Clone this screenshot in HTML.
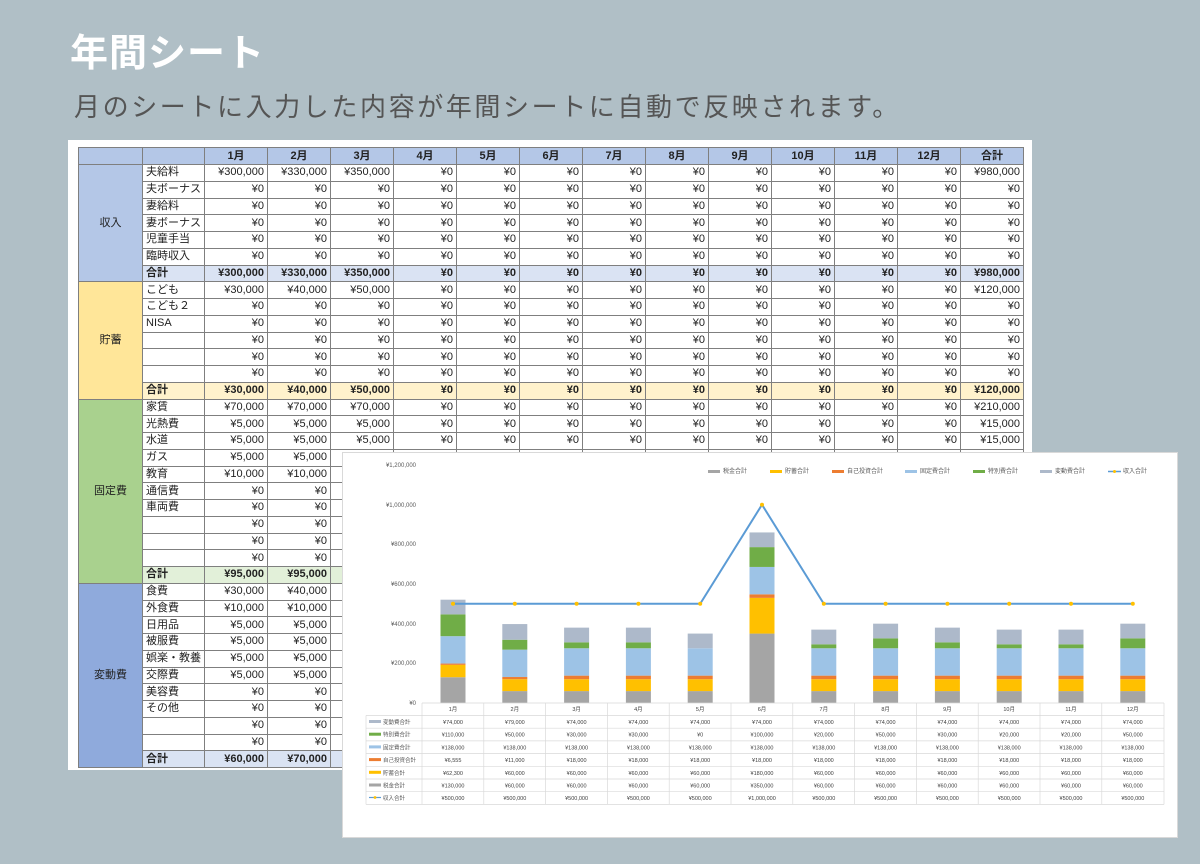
<!DOCTYPE html>
<html><head><meta charset="utf-8">
<style>
body{margin:0;width:1200px;height:864px;background:#b0bfc6;position:relative;overflow:hidden;font-family:"Liberation Sans","Noto Sans CJK JP",sans-serif;}
.title{position:absolute;left:70px;top:22px;font-size:38px;font-weight:bold;color:#fff;letter-spacing:1px}
.sub{position:absolute;left:74px;top:87px;font-size:26px;color:#555;letter-spacing:2.6px}
.sheet{position:absolute;left:68px;top:140px;width:964px;height:630px;background:#fff}
table{position:absolute;left:78px;top:147px;border-collapse:collapse;table-layout:fixed;font-size:11px;color:#222}
td{border:1px solid #7f7f7f;height:15.75px;padding:0 3px;text-align:right;white-space:nowrap;overflow:hidden;line-height:1}
td.l{text-align:left}
td.c{text-align:center}
tr.h td{background:#b4c7e7;font-weight:bold;text-align:center;height:16px}
tr.s1 td{background:#dae3f3;font-weight:bold}
tr.s2 td{background:#fff2cc;font-weight:bold}
tr.s3 td{background:#e2f0d9;font-weight:bold}
tr.s4 td{background:#dae3f3;font-weight:bold}
svg{position:absolute;left:0;top:0}
</style></head><body>
<div class="title">年間シート</div>
<div class="sub">月のシートに入力した内容が年間シートに自動で反映されます。</div>
<div class="sheet"></div>
<table>
<colgroup><col style="width:64px"><col style="width:62px"><col span="13" style="width:63px"></colgroup>
<tr class="h"><td></td><td></td><td>1月</td><td>2月</td><td>3月</td><td>4月</td><td>5月</td><td>6月</td><td>7月</td><td>8月</td><td>9月</td><td>10月</td><td>11月</td><td>12月</td><td>合計</td></tr>
<tr><td rowspan="7" class="c" style="background:#b4c7e7">収入</td><td class="l">夫給料</td><td>¥300,000</td><td>¥330,000</td><td>¥350,000</td><td>¥0</td><td>¥0</td><td>¥0</td><td>¥0</td><td>¥0</td><td>¥0</td><td>¥0</td><td>¥0</td><td>¥0</td><td>¥980,000</td></tr>
<tr><td class="l">夫ボーナス</td><td>¥0</td><td>¥0</td><td>¥0</td><td>¥0</td><td>¥0</td><td>¥0</td><td>¥0</td><td>¥0</td><td>¥0</td><td>¥0</td><td>¥0</td><td>¥0</td><td>¥0</td></tr>
<tr><td class="l">妻給料</td><td>¥0</td><td>¥0</td><td>¥0</td><td>¥0</td><td>¥0</td><td>¥0</td><td>¥0</td><td>¥0</td><td>¥0</td><td>¥0</td><td>¥0</td><td>¥0</td><td>¥0</td></tr>
<tr><td class="l">妻ボーナス</td><td>¥0</td><td>¥0</td><td>¥0</td><td>¥0</td><td>¥0</td><td>¥0</td><td>¥0</td><td>¥0</td><td>¥0</td><td>¥0</td><td>¥0</td><td>¥0</td><td>¥0</td></tr>
<tr><td class="l">児童手当</td><td>¥0</td><td>¥0</td><td>¥0</td><td>¥0</td><td>¥0</td><td>¥0</td><td>¥0</td><td>¥0</td><td>¥0</td><td>¥0</td><td>¥0</td><td>¥0</td><td>¥0</td></tr>
<tr><td class="l">臨時収入</td><td>¥0</td><td>¥0</td><td>¥0</td><td>¥0</td><td>¥0</td><td>¥0</td><td>¥0</td><td>¥0</td><td>¥0</td><td>¥0</td><td>¥0</td><td>¥0</td><td>¥0</td></tr>
<tr class="s1"><td class="l">合計</td><td>¥300,000</td><td>¥330,000</td><td>¥350,000</td><td>¥0</td><td>¥0</td><td>¥0</td><td>¥0</td><td>¥0</td><td>¥0</td><td>¥0</td><td>¥0</td><td>¥0</td><td>¥980,000</td></tr>
<tr><td rowspan="7" class="c" style="background:#ffe699">貯蓄</td><td class="l">こども</td><td>¥30,000</td><td>¥40,000</td><td>¥50,000</td><td>¥0</td><td>¥0</td><td>¥0</td><td>¥0</td><td>¥0</td><td>¥0</td><td>¥0</td><td>¥0</td><td>¥0</td><td>¥120,000</td></tr>
<tr><td class="l">こども２</td><td>¥0</td><td>¥0</td><td>¥0</td><td>¥0</td><td>¥0</td><td>¥0</td><td>¥0</td><td>¥0</td><td>¥0</td><td>¥0</td><td>¥0</td><td>¥0</td><td>¥0</td></tr>
<tr><td class="l">NISA</td><td>¥0</td><td>¥0</td><td>¥0</td><td>¥0</td><td>¥0</td><td>¥0</td><td>¥0</td><td>¥0</td><td>¥0</td><td>¥0</td><td>¥0</td><td>¥0</td><td>¥0</td></tr>
<tr><td class="l"></td><td>¥0</td><td>¥0</td><td>¥0</td><td>¥0</td><td>¥0</td><td>¥0</td><td>¥0</td><td>¥0</td><td>¥0</td><td>¥0</td><td>¥0</td><td>¥0</td><td>¥0</td></tr>
<tr><td class="l"></td><td>¥0</td><td>¥0</td><td>¥0</td><td>¥0</td><td>¥0</td><td>¥0</td><td>¥0</td><td>¥0</td><td>¥0</td><td>¥0</td><td>¥0</td><td>¥0</td><td>¥0</td></tr>
<tr><td class="l"></td><td>¥0</td><td>¥0</td><td>¥0</td><td>¥0</td><td>¥0</td><td>¥0</td><td>¥0</td><td>¥0</td><td>¥0</td><td>¥0</td><td>¥0</td><td>¥0</td><td>¥0</td></tr>
<tr class="s2"><td class="l">合計</td><td>¥30,000</td><td>¥40,000</td><td>¥50,000</td><td>¥0</td><td>¥0</td><td>¥0</td><td>¥0</td><td>¥0</td><td>¥0</td><td>¥0</td><td>¥0</td><td>¥0</td><td>¥120,000</td></tr>
<tr><td rowspan="11" class="c" style="background:#a9d18e">固定費</td><td class="l">家賃</td><td>¥70,000</td><td>¥70,000</td><td>¥70,000</td><td>¥0</td><td>¥0</td><td>¥0</td><td>¥0</td><td>¥0</td><td>¥0</td><td>¥0</td><td>¥0</td><td>¥0</td><td>¥210,000</td></tr>
<tr><td class="l">光熱費</td><td>¥5,000</td><td>¥5,000</td><td>¥5,000</td><td>¥0</td><td>¥0</td><td>¥0</td><td>¥0</td><td>¥0</td><td>¥0</td><td>¥0</td><td>¥0</td><td>¥0</td><td>¥15,000</td></tr>
<tr><td class="l">水道</td><td>¥5,000</td><td>¥5,000</td><td>¥5,000</td><td>¥0</td><td>¥0</td><td>¥0</td><td>¥0</td><td>¥0</td><td>¥0</td><td>¥0</td><td>¥0</td><td>¥0</td><td>¥15,000</td></tr>
<tr><td class="l">ガス</td><td>¥5,000</td><td>¥5,000</td><td>¥5,000</td><td>¥0</td><td>¥0</td><td>¥0</td><td>¥0</td><td>¥0</td><td>¥0</td><td>¥0</td><td>¥0</td><td>¥0</td><td>¥15,000</td></tr>
<tr><td class="l">教育</td><td>¥10,000</td><td>¥10,000</td><td>¥10,000</td><td>¥0</td><td>¥0</td><td>¥0</td><td>¥0</td><td>¥0</td><td>¥0</td><td>¥0</td><td>¥0</td><td>¥0</td><td>¥30,000</td></tr>
<tr><td class="l">通信費</td><td>¥0</td><td>¥0</td><td>¥0</td><td>¥0</td><td>¥0</td><td>¥0</td><td>¥0</td><td>¥0</td><td>¥0</td><td>¥0</td><td>¥0</td><td>¥0</td><td>¥0</td></tr>
<tr><td class="l">車両費</td><td>¥0</td><td>¥0</td><td>¥0</td><td>¥0</td><td>¥0</td><td>¥0</td><td>¥0</td><td>¥0</td><td>¥0</td><td>¥0</td><td>¥0</td><td>¥0</td><td>¥0</td></tr>
<tr><td class="l"></td><td>¥0</td><td>¥0</td><td>¥0</td><td>¥0</td><td>¥0</td><td>¥0</td><td>¥0</td><td>¥0</td><td>¥0</td><td>¥0</td><td>¥0</td><td>¥0</td><td>¥0</td></tr>
<tr><td class="l"></td><td>¥0</td><td>¥0</td><td>¥0</td><td>¥0</td><td>¥0</td><td>¥0</td><td>¥0</td><td>¥0</td><td>¥0</td><td>¥0</td><td>¥0</td><td>¥0</td><td>¥0</td></tr>
<tr><td class="l"></td><td>¥0</td><td>¥0</td><td>¥0</td><td>¥0</td><td>¥0</td><td>¥0</td><td>¥0</td><td>¥0</td><td>¥0</td><td>¥0</td><td>¥0</td><td>¥0</td><td>¥0</td></tr>
<tr class="s3"><td class="l">合計</td><td>¥95,000</td><td>¥95,000</td><td>¥95,000</td><td>¥0</td><td>¥0</td><td>¥0</td><td>¥0</td><td>¥0</td><td>¥0</td><td>¥0</td><td>¥0</td><td>¥0</td><td>¥285,000</td></tr>
<tr><td rowspan="11" class="c" style="background:#8faadc">変動費</td><td class="l">食費</td><td>¥30,000</td><td>¥40,000</td><td>¥40,000</td><td>¥0</td><td>¥0</td><td>¥0</td><td>¥0</td><td>¥0</td><td>¥0</td><td>¥0</td><td>¥0</td><td>¥0</td><td>¥110,000</td></tr>
<tr><td class="l">外食費</td><td>¥10,000</td><td>¥10,000</td><td>¥10,000</td><td>¥0</td><td>¥0</td><td>¥0</td><td>¥0</td><td>¥0</td><td>¥0</td><td>¥0</td><td>¥0</td><td>¥0</td><td>¥30,000</td></tr>
<tr><td class="l">日用品</td><td>¥5,000</td><td>¥5,000</td><td>¥5,000</td><td>¥0</td><td>¥0</td><td>¥0</td><td>¥0</td><td>¥0</td><td>¥0</td><td>¥0</td><td>¥0</td><td>¥0</td><td>¥15,000</td></tr>
<tr><td class="l">被服費</td><td>¥5,000</td><td>¥5,000</td><td>¥5,000</td><td>¥0</td><td>¥0</td><td>¥0</td><td>¥0</td><td>¥0</td><td>¥0</td><td>¥0</td><td>¥0</td><td>¥0</td><td>¥15,000</td></tr>
<tr><td class="l">娯楽・教養</td><td>¥5,000</td><td>¥5,000</td><td>¥5,000</td><td>¥0</td><td>¥0</td><td>¥0</td><td>¥0</td><td>¥0</td><td>¥0</td><td>¥0</td><td>¥0</td><td>¥0</td><td>¥15,000</td></tr>
<tr><td class="l">交際費</td><td>¥5,000</td><td>¥5,000</td><td>¥5,000</td><td>¥0</td><td>¥0</td><td>¥0</td><td>¥0</td><td>¥0</td><td>¥0</td><td>¥0</td><td>¥0</td><td>¥0</td><td>¥15,000</td></tr>
<tr><td class="l">美容費</td><td>¥0</td><td>¥0</td><td>¥0</td><td>¥0</td><td>¥0</td><td>¥0</td><td>¥0</td><td>¥0</td><td>¥0</td><td>¥0</td><td>¥0</td><td>¥0</td><td>¥0</td></tr>
<tr><td class="l">その他</td><td>¥0</td><td>¥0</td><td>¥0</td><td>¥0</td><td>¥0</td><td>¥0</td><td>¥0</td><td>¥0</td><td>¥0</td><td>¥0</td><td>¥0</td><td>¥0</td><td>¥0</td></tr>
<tr><td class="l"></td><td>¥0</td><td>¥0</td><td>¥0</td><td>¥0</td><td>¥0</td><td>¥0</td><td>¥0</td><td>¥0</td><td>¥0</td><td>¥0</td><td>¥0</td><td>¥0</td><td>¥0</td></tr>
<tr><td class="l"></td><td>¥0</td><td>¥0</td><td>¥0</td><td>¥0</td><td>¥0</td><td>¥0</td><td>¥0</td><td>¥0</td><td>¥0</td><td>¥0</td><td>¥0</td><td>¥0</td><td>¥0</td></tr>
<tr class="s4"><td class="l">合計</td><td>¥60,000</td><td>¥70,000</td><td>¥70,000</td><td>¥0</td><td>¥0</td><td>¥0</td><td>¥0</td><td>¥0</td><td>¥0</td><td>¥0</td><td>¥0</td><td>¥0</td><td>¥200,000</td></tr>
</table>

<svg width="1200" height="864" viewBox="0 0 1200 864" font-family="Liberation Sans, Noto Sans CJK JP, sans-serif">
<rect x="342.5" y="452.5" width="835" height="385" fill="#fff" stroke="#d9d9d9"/>
<g font-size="6" fill="#595959" text-anchor="end">
<text x="416" y="467">¥1,200,000</text><text x="416" y="507">¥1,000,000</text><text x="416" y="546">¥800,000</text><text x="416" y="586">¥600,000</text><text x="416" y="626">¥400,000</text><text x="416" y="665">¥200,000</text><text x="416" y="705">¥0</text>
</g>
<g font-size="6" fill="#595959">
<rect x="708" y="470" width="12" height="3" fill="#a5a5a5"/><text x="723" y="473">税金合計</text>
<rect x="770" y="470" width="12" height="3" fill="#ffc000"/><text x="785" y="473">貯蓄合計</text>
<rect x="832" y="470" width="12" height="3" fill="#ed7d31"/><text x="847" y="473">自己投資合計</text>
<rect x="905" y="470" width="12" height="3" fill="#9dc3e6"/><text x="920" y="473">固定費合計</text>
<rect x="973" y="470" width="12" height="3" fill="#70ad47"/><text x="988" y="473">特別費合計</text>
<rect x="1040" y="470" width="12" height="3" fill="#adb9ca"/><text x="1055" y="473">変動費合計</text>
<line x1="1108" y1="471.5" x2="1121" y2="471.5" stroke="#5b9bd5" stroke-width="1.5"/><circle cx="1114.5" cy="471.5" r="1.5" fill="#ffc000"/><text x="1123" y="473">収入合計</text>
</g>
<g transform="translate(0,703) scale(1,-0.19833)">
<g transform="translate(440.5,0)">
<rect x="0" y="0" width="25" height="130" fill="#a5a5a5"/><rect x="0" y="130" width="25" height="62.3" fill="#ffc000"/><rect x="0" y="192.3" width="25" height="6.6" fill="#ed7d31"/><rect x="0" y="198.9" width="25" height="138" fill="#9dc3e6"/><rect x="0" y="336.9" width="25" height="110" fill="#70ad47"/><rect x="0" y="446.9" width="25" height="74" fill="#adb9ca"/>
</g>
<g transform="translate(502.3,0)">
<rect y="0" width="25" height="60" fill="#a5a5a5"/><rect y="60" width="25" height="60" fill="#ffc000"/><rect y="120" width="25" height="11" fill="#ed7d31"/><rect y="131" width="25" height="138" fill="#9dc3e6"/><rect y="269" width="25" height="50" fill="#70ad47"/><rect y="319" width="25" height="79" fill="#adb9ca"/>
</g>
<g transform="translate(564.1,0)">
<rect y="0" width="25" height="60" fill="#a5a5a5"/><rect y="60" width="25" height="60" fill="#ffc000"/><rect y="120" width="25" height="18" fill="#ed7d31"/><rect y="138" width="25" height="138" fill="#9dc3e6"/><rect y="276" width="25" height="30" fill="#70ad47"/><rect y="306" width="25" height="74" fill="#adb9ca"/>
</g>
<g transform="translate(625.9,0)">
<rect y="0" width="25" height="60" fill="#a5a5a5"/><rect y="60" width="25" height="60" fill="#ffc000"/><rect y="120" width="25" height="18" fill="#ed7d31"/><rect y="138" width="25" height="138" fill="#9dc3e6"/><rect y="276" width="25" height="30" fill="#70ad47"/><rect y="306" width="25" height="74" fill="#adb9ca"/>
</g>
<g transform="translate(687.7,0)">
<rect y="0" width="25" height="60" fill="#a5a5a5"/><rect y="60" width="25" height="60" fill="#ffc000"/><rect y="120" width="25" height="18" fill="#ed7d31"/><rect y="138" width="25" height="138" fill="#9dc3e6"/><rect y="276" width="25" height="74" fill="#adb9ca"/>
</g>
<g transform="translate(749.5,0)">
<rect y="0" width="25" height="350" fill="#a5a5a5"/><rect y="350" width="25" height="180" fill="#ffc000"/><rect y="530" width="25" height="18" fill="#ed7d31"/><rect y="548" width="25" height="138" fill="#9dc3e6"/><rect y="686" width="25" height="100" fill="#70ad47"/><rect y="786" width="25" height="74" fill="#adb9ca"/>
</g>
<g transform="translate(811.3,0)">
<rect y="0" width="25" height="60" fill="#a5a5a5"/><rect y="60" width="25" height="60" fill="#ffc000"/><rect y="120" width="25" height="18" fill="#ed7d31"/><rect y="138" width="25" height="138" fill="#9dc3e6"/><rect y="276" width="25" height="20" fill="#70ad47"/><rect y="296" width="25" height="74" fill="#adb9ca"/>
</g>
<g transform="translate(873.1,0)">
<rect y="0" width="25" height="60" fill="#a5a5a5"/><rect y="60" width="25" height="60" fill="#ffc000"/><rect y="120" width="25" height="18" fill="#ed7d31"/><rect y="138" width="25" height="138" fill="#9dc3e6"/><rect y="276" width="25" height="50" fill="#70ad47"/><rect y="326" width="25" height="74" fill="#adb9ca"/>
</g>
<g transform="translate(934.9,0)">
<rect y="0" width="25" height="60" fill="#a5a5a5"/><rect y="60" width="25" height="60" fill="#ffc000"/><rect y="120" width="25" height="18" fill="#ed7d31"/><rect y="138" width="25" height="138" fill="#9dc3e6"/><rect y="276" width="25" height="30" fill="#70ad47"/><rect y="306" width="25" height="74" fill="#adb9ca"/>
</g>
<g transform="translate(996.7,0)">
<rect y="0" width="25" height="60" fill="#a5a5a5"/><rect y="60" width="25" height="60" fill="#ffc000"/><rect y="120" width="25" height="18" fill="#ed7d31"/><rect y="138" width="25" height="138" fill="#9dc3e6"/><rect y="276" width="25" height="20" fill="#70ad47"/><rect y="296" width="25" height="74" fill="#adb9ca"/>
</g>
<g transform="translate(1058.5,0)">
<rect y="0" width="25" height="60" fill="#a5a5a5"/><rect y="60" width="25" height="60" fill="#ffc000"/><rect y="120" width="25" height="18" fill="#ed7d31"/><rect y="138" width="25" height="138" fill="#9dc3e6"/><rect y="276" width="25" height="20" fill="#70ad47"/><rect y="296" width="25" height="74" fill="#adb9ca"/>
</g>
<g transform="translate(1120.3,0)">
<rect y="0" width="25" height="60" fill="#a5a5a5"/><rect y="60" width="25" height="60" fill="#ffc000"/><rect y="120" width="25" height="18" fill="#ed7d31"/><rect y="138" width="25" height="138" fill="#9dc3e6"/><rect y="276" width="25" height="50" fill="#70ad47"/><rect y="326" width="25" height="74" fill="#adb9ca"/>
</g>
</g>
<polyline points="453,603.8 514.8,603.8 576.6,603.8 638.4,603.8 700.2,603.8 762,504.7 823.8,603.8 885.6,603.8 947.4,603.8 1009.2,603.8 1071,603.8 1132.8,603.8" fill="none" stroke="#5b9bd5" stroke-width="2"/>
<g fill="#ffc000">
<circle cx="453" cy="603.8" r="2"/><circle cx="514.8" cy="603.8" r="2"/><circle cx="576.6" cy="603.8" r="2"/><circle cx="638.4" cy="603.8" r="2"/><circle cx="700.2" cy="603.8" r="2"/><circle cx="762" cy="504.7" r="2"/><circle cx="823.8" cy="603.8" r="2"/><circle cx="885.6" cy="603.8" r="2"/><circle cx="947.4" cy="603.8" r="2"/><circle cx="1009.2" cy="603.8" r="2"/><circle cx="1071" cy="603.8" r="2"/><circle cx="1132.8" cy="603.8" r="2"/>
</g>
<g stroke="#d9d9d9" stroke-width="0.7" fill="none">
<line x1="422" y1="703" x2="1164" y2="703"/>
<line x1="366" y1="715.5" x2="1164" y2="715.5"/><line x1="366" y1="728.2" x2="1164" y2="728.2"/><line x1="366" y1="740.9" x2="1164" y2="740.9"/><line x1="366" y1="753.6" x2="1164" y2="753.6"/><line x1="366" y1="766.3" x2="1164" y2="766.3"/><line x1="366" y1="779" x2="1164" y2="779"/><line x1="366" y1="791.7" x2="1164" y2="791.7"/><line x1="366" y1="804.4" x2="1164" y2="804.4"/>
<line x1="366" y1="715.5" x2="366" y2="804.4"/>
<line x1="422" y1="703" x2="422" y2="804.4"/><line x1="483.8" y1="703" x2="483.8" y2="804.4"/><line x1="545.6" y1="703" x2="545.6" y2="804.4"/><line x1="607.4" y1="703" x2="607.4" y2="804.4"/><line x1="669.2" y1="703" x2="669.2" y2="804.4"/><line x1="731" y1="703" x2="731" y2="804.4"/><line x1="792.8" y1="703" x2="792.8" y2="804.4"/><line x1="854.6" y1="703" x2="854.6" y2="804.4"/><line x1="916.4" y1="703" x2="916.4" y2="804.4"/><line x1="978.2" y1="703" x2="978.2" y2="804.4"/><line x1="1040" y1="703" x2="1040" y2="804.4"/><line x1="1101.8" y1="703" x2="1101.8" y2="804.4"/><line x1="1164" y1="703" x2="1164" y2="804.4"/>
</g>
<g font-size="5.5" fill="#595959">
<rect x="369" y="720" width="12" height="3" fill="#adb9ca"/><text x="383" y="724">変動費合計</text>
<rect x="369" y="732.7" width="12" height="3" fill="#70ad47"/><text x="383" y="736.7">特別費合計</text>
<rect x="369" y="745.4" width="12" height="3" fill="#9dc3e6"/><text x="383" y="749.4">固定費合計</text>
<rect x="369" y="758.1" width="12" height="3" fill="#ed7d31"/><text x="383" y="762.1">自己投資合計</text>
<rect x="369" y="770.8" width="12" height="3" fill="#ffc000"/><text x="383" y="774.8">貯蓄合計</text>
<rect x="369" y="783.5" width="12" height="3" fill="#a5a5a5"/><text x="383" y="787.5">税金合計</text>
<line x1="369" y1="797.5" x2="381" y2="797.5" stroke="#5b9bd5" stroke-width="1.2"/><circle cx="375" cy="797.5" r="1.4" fill="#ffc000"/><text x="383" y="800">収入合計</text>
</g>
<g font-size="5.5" fill="#404040" text-anchor="middle">
<text y="711"><tspan x="453">1月</tspan><tspan x="514.8">2月</tspan><tspan x="576.6">3月</tspan><tspan x="638.4">4月</tspan><tspan x="700.2">5月</tspan><tspan x="762">6月</tspan><tspan x="823.8">7月</tspan><tspan x="885.6">8月</tspan><tspan x="947.4">9月</tspan><tspan x="1009.2">10月</tspan><tspan x="1071">11月</tspan><tspan x="1132.8">12月</tspan></text>
<text y="724"><tspan x="453">¥74,000</tspan><tspan x="514.8">¥79,000</tspan><tspan x="576.6">¥74,000</tspan><tspan x="638.4">¥74,000</tspan><tspan x="700.2">¥74,000</tspan><tspan x="762">¥74,000</tspan><tspan x="823.8">¥74,000</tspan><tspan x="885.6">¥74,000</tspan><tspan x="947.4">¥74,000</tspan><tspan x="1009.2">¥74,000</tspan><tspan x="1071">¥74,000</tspan><tspan x="1132.8">¥74,000</tspan></text>
<text y="736.7"><tspan x="453">¥110,000</tspan><tspan x="514.8">¥50,000</tspan><tspan x="576.6">¥30,000</tspan><tspan x="638.4">¥30,000</tspan><tspan x="700.2">¥0</tspan><tspan x="762">¥100,000</tspan><tspan x="823.8">¥20,000</tspan><tspan x="885.6">¥50,000</tspan><tspan x="947.4">¥30,000</tspan><tspan x="1009.2">¥20,000</tspan><tspan x="1071">¥20,000</tspan><tspan x="1132.8">¥50,000</tspan></text>
<text y="749.4"><tspan x="453">¥138,000</tspan><tspan x="514.8">¥138,000</tspan><tspan x="576.6">¥138,000</tspan><tspan x="638.4">¥138,000</tspan><tspan x="700.2">¥138,000</tspan><tspan x="762">¥138,000</tspan><tspan x="823.8">¥138,000</tspan><tspan x="885.6">¥138,000</tspan><tspan x="947.4">¥138,000</tspan><tspan x="1009.2">¥138,000</tspan><tspan x="1071">¥138,000</tspan><tspan x="1132.8">¥138,000</tspan></text>
<text y="762.1"><tspan x="453">¥6,555</tspan><tspan x="514.8">¥11,000</tspan><tspan x="576.6">¥18,000</tspan><tspan x="638.4">¥18,000</tspan><tspan x="700.2">¥18,000</tspan><tspan x="762">¥18,000</tspan><tspan x="823.8">¥18,000</tspan><tspan x="885.6">¥18,000</tspan><tspan x="947.4">¥18,000</tspan><tspan x="1009.2">¥18,000</tspan><tspan x="1071">¥18,000</tspan><tspan x="1132.8">¥18,000</tspan></text>
<text y="774.8"><tspan x="453">¥62,300</tspan><tspan x="514.8">¥60,000</tspan><tspan x="576.6">¥60,000</tspan><tspan x="638.4">¥60,000</tspan><tspan x="700.2">¥60,000</tspan><tspan x="762">¥180,000</tspan><tspan x="823.8">¥60,000</tspan><tspan x="885.6">¥60,000</tspan><tspan x="947.4">¥60,000</tspan><tspan x="1009.2">¥60,000</tspan><tspan x="1071">¥60,000</tspan><tspan x="1132.8">¥60,000</tspan></text>
<text y="787.5"><tspan x="453">¥130,000</tspan><tspan x="514.8">¥60,000</tspan><tspan x="576.6">¥60,000</tspan><tspan x="638.4">¥60,000</tspan><tspan x="700.2">¥60,000</tspan><tspan x="762">¥350,000</tspan><tspan x="823.8">¥60,000</tspan><tspan x="885.6">¥60,000</tspan><tspan x="947.4">¥60,000</tspan><tspan x="1009.2">¥60,000</tspan><tspan x="1071">¥60,000</tspan><tspan x="1132.8">¥60,000</tspan></text>
<text y="800.2"><tspan x="453">¥500,000</tspan><tspan x="514.8">¥500,000</tspan><tspan x="576.6">¥500,000</tspan><tspan x="638.4">¥500,000</tspan><tspan x="700.2">¥500,000</tspan><tspan x="762">¥1,000,000</tspan><tspan x="823.8">¥500,000</tspan><tspan x="885.6">¥500,000</tspan><tspan x="947.4">¥500,000</tspan><tspan x="1009.2">¥500,000</tspan><tspan x="1071">¥500,000</tspan><tspan x="1132.8">¥500,000</tspan></text>
</g>
</svg>
</body></html>
